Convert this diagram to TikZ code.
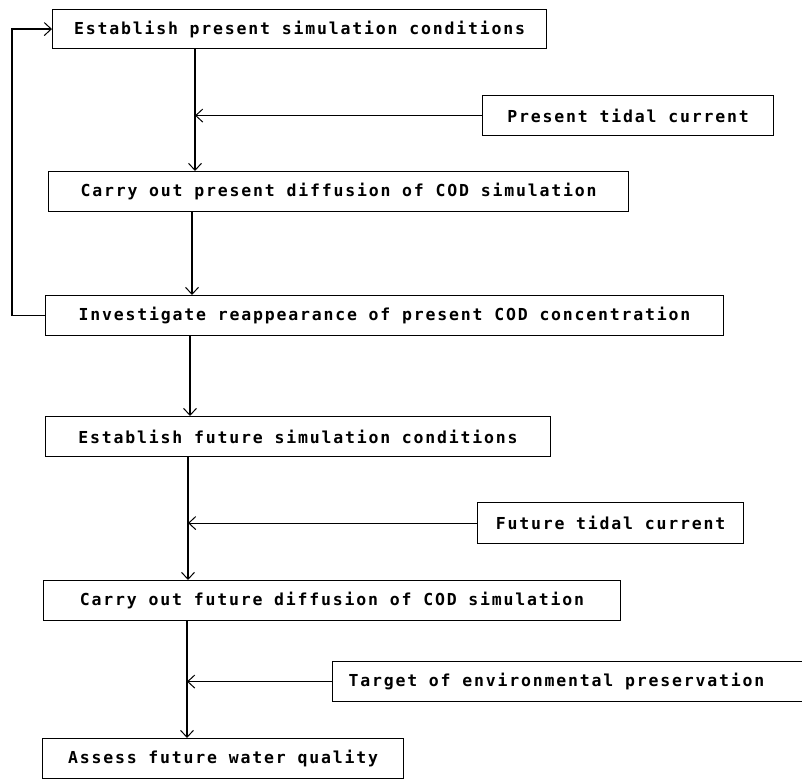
\documentclass[tikz,border=0pt]{standalone}
\usepackage{fontspec}
\newfontfamily\boxfont[LetterSpace=11]{DejaVu Sans Mono}
\usetikzlibrary{arrows.meta}
\begin{document}
\begin{tikzpicture}[x=1pt,y=-1pt,
  box/.style={draw, line width=1.1pt, anchor=north west, inner xsep=0pt, inner ysep=0pt,
    font=\boxfont\bfseries\fontsize{16.5}{18}\selectfont},
  flow/.style={line width=1.5pt, -{Straight Barb[length=7pt,width=13pt,line width=1pt]}},
  feed/.style={line width=0.9pt, -{Straight Barb[length=7pt,width=13pt,line width=1pt]}},
  loopline/.style={line width=1.2pt, -{Straight Barb[length=7pt,width=13pt,line width=1pt]}}]
\useasboundingbox (0,0) rectangle (802,779);

% main boxes
\node[box, minimum width=494pt, minimum height=39pt] (B1) at (52,9) {Establish present simulation conditions};
\node[box, minimum width=580pt, minimum height=40pt] (B2) at (48,171) {Carry out present diffusion of COD simulation};
\node[box, minimum width=678pt, minimum height=40pt] (B3) at (45,295) {Investigate reappearance of present COD concentration};
\node[box, minimum width=505pt, minimum height=40pt] (B4) at (45,416) {Establish future simulation conditions};
\node[box, minimum width=577pt, minimum height=40pt] (B5) at (43,580) {Carry out future diffusion of COD simulation};
\node[box, minimum width=361pt, minimum height=40pt] (B6) at (42,738) {Assess future water quality};

% side input boxes
\node[box, minimum width=291pt, minimum height=40pt] (P1) at (482,95) {Present tidal current};
\node[box, minimum width=266pt, minimum height=41pt] (P2) at (477,502) {Future tidal current};
\node[box, minimum height=40pt, inner xsep=16pt] (P3) at (332,661) {\makebox[448pt][l]{Target of environmental preservation}};

% x positions of the vertical flow lines
\coordinate (v1) at (195,0);
\coordinate (v2) at (192,0);
\coordinate (v3) at (190,0);
\coordinate (v4) at (188,0);
\coordinate (v5) at (187,0);
\coordinate (L) at (12,0);

% main flow
\draw[flow] (B1.south -| v1) -- (B2.north -| v1);
\draw[flow] (B2.south -| v2) -- (B3.north -| v2);
\draw[flow] (B3.south -| v3) -- (B4.north -| v3);
\draw[flow] (B4.south -| v4) -- (B5.north -| v4);
\draw[flow] (B5.south -| v5) -- (B6.north -| v5);

% side inputs
\draw[feed] (P1.west) -- (P1.west -| v1);
\draw[feed] (P2.west) -- (P2.west -| v4);
\draw[feed] (P3.west) -- (P3.west -| v5);

% feedback loop
\draw[loopline] (B3.west) -- (B3.west -| L) -- (B1.west -| L) -- (B1.west);
\end{tikzpicture}
\end{document}
